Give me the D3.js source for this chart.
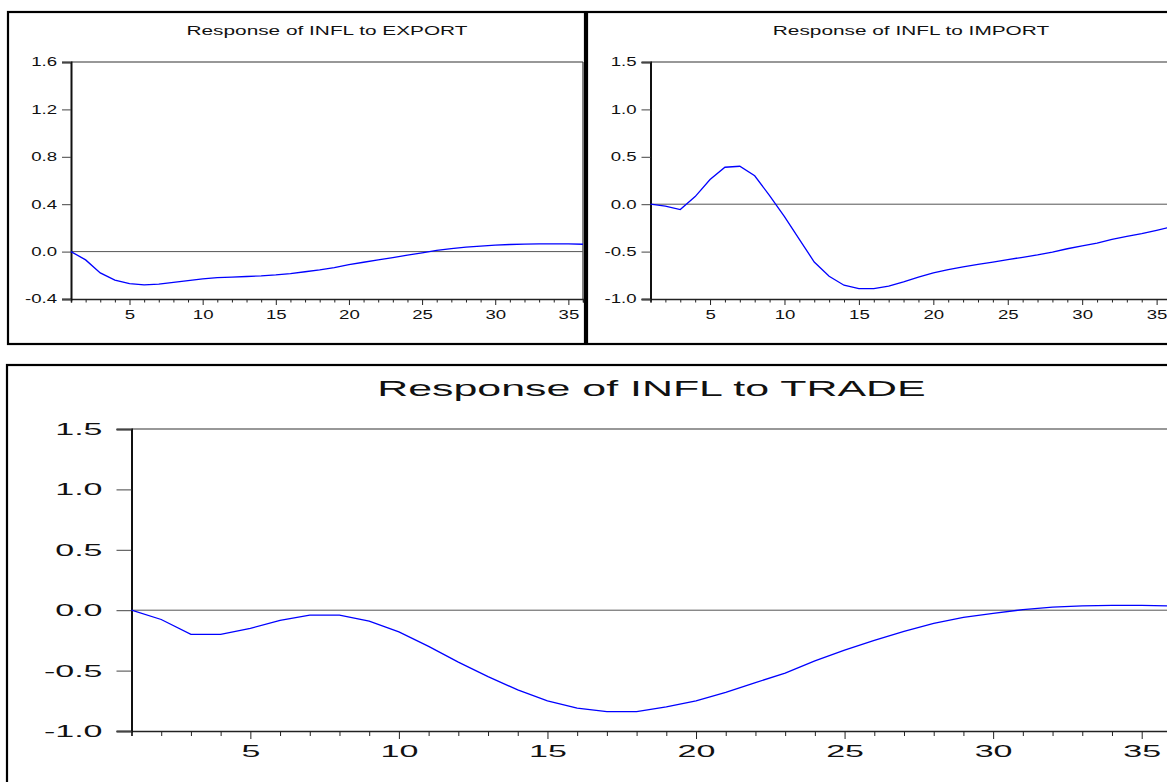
<!DOCTYPE html>
<html>
<head>
<meta charset="utf-8">
<script src="https://cdn.jsdelivr.net/npm/d3@7"></script>
<style>
  body { margin: 0; background: #fff; }
  svg { display: block; }
</style>
</head>
<body>
<svg id="chart" width="1167" height="782"></svg>
<script>
// impulse response periods
var periods = [1, 2, 3, 4, 5, 6, 7, 8, 9, 10, 11, 12, 13, 14, 15, 16, 17, 18,
               19, 20, 21, 22, 23, 24, 25, 26, 27, 28, 29, 30, 31, 32, 33, 34, 35, 36];

// Response of INFL to EXPORT
var exportResp = [0.00, -0.07, -0.18, -0.24, -0.27, -0.28, -0.275, -0.26, -0.245, -0.23,
                  -0.22, -0.215, -0.21, -0.205, -0.197, -0.185, -0.17, -0.155, -0.135, -0.11,
                  -0.09, -0.07, -0.05, -0.03, -0.01, 0.01, 0.025, 0.037, 0.047, 0.055,
                  0.06, 0.063, 0.065, 0.066, 0.065, 0.062];

// Response of INFL to IMPORT
var importResp = [0.00, -0.02, -0.056, 0.08, 0.26, 0.39, 0.40, 0.30, 0.09, -0.13,
                  -0.37, -0.61, -0.76, -0.855, -0.89, -0.89, -0.865, -0.82, -0.77, -0.725,
                  -0.69, -0.66, -0.635, -0.61, -0.585, -0.56, -0.535, -0.505, -0.47, -0.44,
                  -0.41, -0.37, -0.34, -0.31, -0.275, -0.24];

// Response of INFL to TRADE
var tradeResp = [0.00, -0.077, -0.20, -0.20, -0.15, -0.085, -0.04, -0.04, -0.09, -0.18,
                 -0.30, -0.43, -0.55, -0.66, -0.75, -0.81, -0.84, -0.84, -0.80, -0.75,
                 -0.68, -0.60, -0.52, -0.42, -0.33, -0.25, -0.175, -0.11, -0.06, -0.027,
                 0.005, 0.025, 0.035, 0.04, 0.04, 0.035];

var exportTicks = [-0.4, 0.0, 0.4, 0.8, 1.2, 1.6];
var importTicks = [-1.0, -0.5, 0.0, 0.5, 1.0, 1.5];
var tradeTicks = [-1.0, -0.5, 0.0, 0.5, 1.0, 1.5];
var xLabelTicks = [5, 10, 15, 20, 25, 30, 35];

var svg = d3.select("#chart")
    .attr("font-family", "'Liberation Sans', Arial, sans-serif");

// the source chart has horizontally stretched text, so widen each label
function stretch(sel, k) {
    sel.each(function () {
        var w = this.getComputedTextLength();
        if (w > 0) {
            d3.select(this)
                .attr("textLength", w * k)
                .attr("lengthAdjust", "spacingAndGlyphs");
        }
    });
}

function drawPanel(p) {
    var g = svg.append("g");

    // outer frame
    g.append("rect")
        .attr("x", p.frame[0])
        .attr("y", p.frame[1])
        .attr("width", p.frame[2])
        .attr("height", p.frame[3])
        .attr("fill", "none")
        .attr("stroke", "#000")
        .attr("stroke-width", 2.2);

    var x = d3.scaleLinear().domain([1, 36]).range([p.left, p.right]);
    var y = d3.scaleLinear().domain([p.yTicks[0], p.yTicks[p.yTicks.length - 1]])
        .range([p.bottom, p.top]);

    // plot box top and right edge
    g.append("line")
        .attr("x1", p.left).attr("x2", p.right)
        .attr("y1", p.top).attr("y2", p.top)
        .attr("stroke", "#333").attr("stroke-width", 1.2);
    g.append("line")
        .attr("x1", p.right).attr("x2", p.right)
        .attr("y1", p.top).attr("y2", p.bottom)
        .attr("stroke", "#333").attr("stroke-width", 1.2);

    // zero line
    g.append("line")
        .attr("x1", x(1)).attr("x2", x(36))
        .attr("y1", y(0)).attr("y2", y(0))
        .attr("stroke", "#555").attr("stroke-width", 1);

    // x axis, a tick per period, labels every 5
    var xg = g.append("g")
        .attr("transform", "translate(0," + p.bottom + ")")
        .call(d3.axisBottom(x)
            .tickValues(periods)
            .tickSizeOuter(0)
            .tickSize(p.minorTick)
            .tickFormat(function (d) {
                return xLabelTicks.indexOf(d) >= 0 ? d : "";
            }));
    xg.select(".domain").attr("stroke", "#222").attr("stroke-width", 1.6);
    xg.selectAll(".tick line")
        .attr("stroke", "#222")
        .attr("y2", function (d) {
            return xLabelTicks.indexOf(d) >= 0 ? p.majorTick : p.minorTick;
        });
    var xt = xg.selectAll(".tick text")
        .attr("font-size", p.fs)
        .attr("font-family", null)
        .attr("fill", "#111")
        .attr("y", p.xLabelY)
        .attr("dy", null);
    stretch(xt, p.k);

    // y axis
    var yg = g.append("g")
        .attr("transform", "translate(" + p.left + ",0)")
        .call(d3.axisLeft(y)
            .tickValues(p.yTicks)
            .tickSizeOuter(0)
            .tickSize(p.yTick)
            .tickPadding(p.yPad)
            .tickFormat(function (d) {
                return d.toFixed(1);
            }));
    yg.select(".domain").attr("stroke", "#111").attr("stroke-width", 2);
    yg.selectAll(".tick line").attr("stroke", "#444");
    var yt = yg.selectAll(".tick text")
        .attr("font-size", p.fs)
        .attr("font-family", null)
        .attr("fill", "#111");
    stretch(yt, p.k);

    // response line
    var line = d3.line()
        .x(function (d, i) { return x(periods[i]); })
        .y(function (d) { return y(d); });
    g.append("path")
        .datum(p.values)
        .attr("d", line)
        .attr("fill", "none")
        .attr("stroke", "#0000ff")
        .attr("stroke-width", 1.3);

    // title
    var t = g.append("text")
        .attr("x", (p.left + p.right) / 2)
        .attr("y", p.titleY)
        .attr("text-anchor", "middle")
        .attr("font-size", p.titleFs)
        .attr("fill", "#111")
        .text(p.title);
    stretch(t, p.titleK);
}

drawPanel({
    title: "Response of INFL to EXPORT",
    values: exportResp,
    yTicks: exportTicks,
    frame: [8, 12, 577, 332],
    left: 71, right: 583, top: 62, bottom: 299,
    fs: 12, k: 1.55, titleFs: 13, titleK: 1.6, titleY: 35,
    minorTick: 3.5, majorTick: 6, yTick: 9, yPad: 5, xLabelY: 20
});

drawPanel({
    title: "Response of INFL to IMPORT",
    values: importResp,
    yTicks: importTicks,
    frame: [587, 12, 600, 332],
    left: 650.5, right: 1171.5, top: 62, bottom: 299,
    fs: 12, k: 1.55, titleFs: 13, titleK: 1.6, titleY: 35,
    minorTick: 3.5, majorTick: 6, yTick: 9, yPad: 5, xLabelY: 20
});

drawPanel({
    title: "Response of INFL to TRADE",
    values: tradeResp,
    yTicks: tradeTicks,
    frame: [7, 365, 1200, 500],
    left: 131.5, right: 1171.4, top: 429, bottom: 731,
    fs: 17, k: 2.0, titleFs: 22, titleK: 1.95, titleY: 396,
    minorTick: 5, majorTick: 8, yTick: 15, yPad: 14, xLabelY: 26
});
</script>
</body>
</html>
